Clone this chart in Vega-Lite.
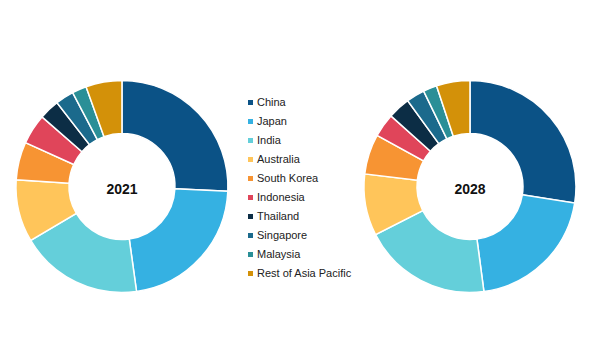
{
  "$schema": "https://vega.github.io/schema/vega-lite/v6.json",
  "width": 600,
  "height": 356,
  "autosize": {"type": "fit", "contains": "padding"},
  "padding": {"left": 0, "right": 0, "top": 17, "bottom": 0},
  "background": "white",
  "config": {"view": {"stroke": null}, "font": "Liberation Sans"},
  "data": {
    "values": [
      {"year": "2021", "country": "China", "share": 25.7, "order": 1},
      {"year": "2021", "country": "Japan", "share": 22.1, "order": 2},
      {"year": "2021", "country": "India", "share": 18.7, "order": 3},
      {"year": "2021", "country": "Australia", "share": 9.5, "order": 4},
      {"year": "2021", "country": "South Korea", "share": 5.8, "order": 5},
      {"year": "2021", "country": "Indonesia", "share": 4.6, "order": 6},
      {"year": "2021", "country": "Thailand", "share": 3.1, "order": 7},
      {"year": "2021", "country": "Singapore", "share": 2.8, "order": 8},
      {"year": "2021", "country": "Malaysia", "share": 2.2, "order": 9},
      {"year": "2021", "country": "Rest of Asia Pacific", "share": 5.5, "order": 10},
      {"year": "2028", "country": "China", "share": 27.5, "order": 1},
      {"year": "2028", "country": "Japan", "share": 20.4, "order": 2},
      {"year": "2028", "country": "India", "share": 19.6, "order": 3},
      {"year": "2028", "country": "Australia", "share": 9.4, "order": 4},
      {"year": "2028", "country": "South Korea", "share": 6.1, "order": 5},
      {"year": "2028", "country": "Indonesia", "share": 3.6, "order": 6},
      {"year": "2028", "country": "Thailand", "share": 3.4, "order": 7},
      {"year": "2028", "country": "Singapore", "share": 2.8, "order": 8},
      {"year": "2028", "country": "Malaysia", "share": 2.1, "order": 9},
      {"year": "2028", "country": "Rest of Asia Pacific", "share": 5.1, "order": 10}
    ]
  },
  "layer": [
    {
      "transform": [
        {"stack": "share", "groupby": ["year"], "sort": [{"field": "order", "order": "ascending"}], "as": ["s0", "s1"]}
      ],
      "mark": {"type": "arc", "innerRadius": 53, "outerRadius": 106, "stroke": "white", "strokeWidth": 1.5},
      "encoding": {
        "x": {"field": "year", "type": "nominal", "scale": {"type": "point", "padding": 0.362, "align": 0.484}, "axis": null},
        "theta": {"field": "s0", "type": "quantitative", "scale": {"domain": [0, 100]}},
        "theta2": {"field": "s1"},
        "color": {
          "field": "country",
          "type": "nominal",
          "sort": ["China", "Japan", "India", "Australia", "South Korea", "Indonesia", "Thailand", "Singapore", "Malaysia", "Rest of Asia Pacific"],
          "scale": {
            "domain": ["China", "Japan", "India", "Australia", "South Korea", "Indonesia", "Thailand", "Singapore", "Malaysia", "Rest of Asia Pacific"],
            "range": ["#0b5286", "#35b1e2", "#64cfda", "#ffc55a", "#f79433", "#e0455a", "#0c2d45", "#1b6a8c", "#2a8f97", "#d39109"]
          },
          "legend": {
            "title": null,
            "orient": "none",
            "legendX": 245,
            "legendY": 80,
            "symbolType": "square",
            "symbolSize": 25,
            "symbolStrokeWidth": 0,
            "labelFontSize": 11,
            "labelFont": "Liberation Sans",
            "labelColor": "#222222",
            "labelOffset": 1,
            "rowPadding": 7,
            "labelLimit": 200
          }
        }
      }
    },
    {
      "mark": {"type": "text", "fontSize": 14, "fontWeight": "bold", "color": "#111111", "baseline": "middle", "align": "center", "dy": 3},
      "transform": [{"filter": "datum.order == 1"}],
      "encoding": {
        "x": {"field": "year", "type": "nominal", "scale": {"type": "point", "padding": 0.362, "align": 0.484}, "axis": null},
        "text": {"field": "year"}
      }
    }
  ]
}
